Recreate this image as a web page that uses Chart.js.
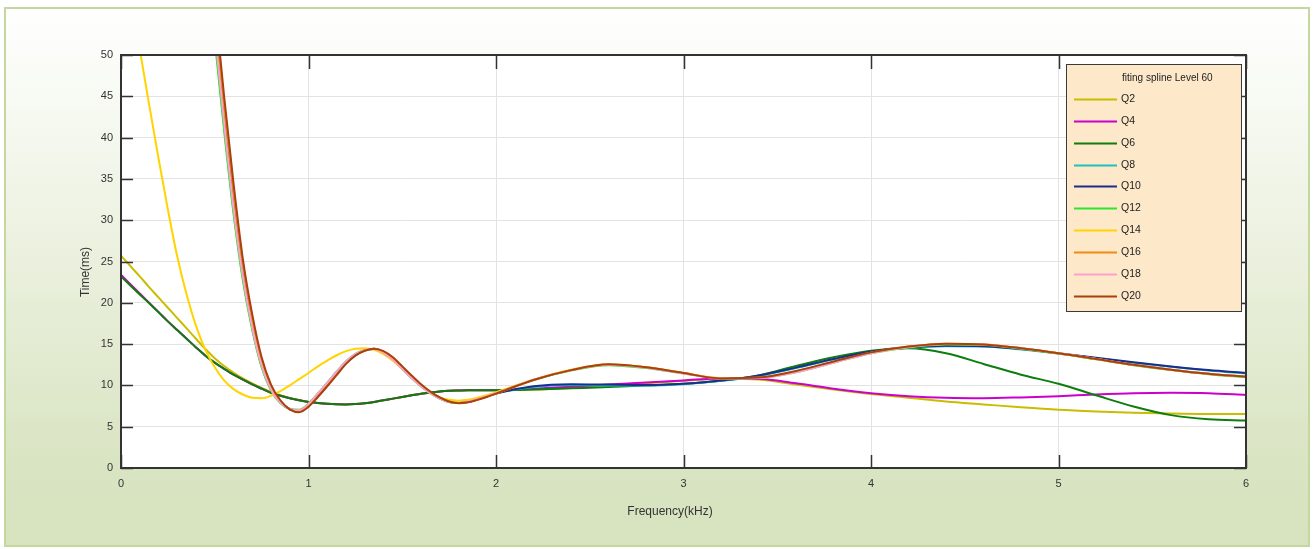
<!DOCTYPE html>
<html>
<head>
<meta charset="utf-8">
<script src="https://cdn.jsdelivr.net/npm/chart.js@4.4.1/dist/chart.umd.min.js"></script>
<style>
  html, body { margin: 0; padding: 0; background: #ffffff; }
  canvas { display: block; }
</style>
</head>
<body>
<canvas id="chart" width="1314" height="549"></canvas>
<script>
// Frequency grid (kHz): fine steps below 2 kHz, coarser above
const freq = [0, 0.05, 0.1, 0.15, 0.2, 0.25, 0.3, 0.35, 0.4, 0.45, 0.5, 0.55, 0.6, 0.65, 0.7, 0.75, 0.8, 0.85, 0.9, 0.95,
  1, 1.05, 1.1, 1.15, 1.2, 1.25, 1.3, 1.35, 1.4, 1.45, 1.5, 1.55, 1.6, 1.65, 1.7, 1.75, 1.8, 1.85, 1.9, 1.95, 2,
  2.2, 2.4, 2.6, 2.8, 3, 3.2, 3.4, 3.6, 3.8, 4, 4.2, 4.4, 4.6, 4.8, 5, 5.2, 5.4, 5.6, 5.8, 6];

// Time (ms) per fitted spline, one value per frequency above
const q2 = [25.7, 24.45, 23.2, 21.9, 20.65, 19.4, 18.15, 16.9, 15.65, 14.4, 13.3, 12.35, 11.55, 10.85, 10.25, 9.7, 9.22, 8.82, 8.48, 8.22,
  8.02, 7.88, 7.78, 7.72, 7.7, 7.75, 7.85, 8.0, 8.2, 8.4, 8.6, 8.8, 9.0, 9.15, 9.27, 9.35, 9.38, 9.4, 9.4, 9.4, 9.4,
  9.5, 9.7, 9.95, 10.25, 10.55, 10.8, 10.7, 10.1, 9.5, 8.95, 8.5, 8.05, 7.7, 7.35, 7.05, 6.85, 6.7, 6.6, 6.55, 6.55];

const q4 = [23.4, 22.25, 21.12, 20.02, 18.9, 17.75, 16.7, 15.65, 14.6, 13.6, 12.75, 12.0, 11.3, 10.7, 10.12, 9.6, 9.1, 8.75, 8.45, 8.2,
  8.0, 7.88, 7.78, 7.72, 7.7, 7.75, 7.85, 8.0, 8.2, 8.4, 8.6, 8.8, 9.0, 9.15, 9.27, 9.35, 9.38, 9.4, 9.4, 9.4, 9.4,
  9.6, 9.85, 10.1, 10.35, 10.6, 10.85, 10.8, 10.25, 9.6, 9.05, 8.7, 8.5, 8.45, 8.55, 8.7, 8.9, 9.05, 9.1, 9.05, 8.85];

const q6 = [23.2, 22.1, 21.0, 19.95, 18.85, 17.75, 16.7, 15.65, 14.6, 13.6, 12.75, 12.0, 11.3, 10.7, 10.12, 9.6, 9.1, 8.75, 8.45, 8.2,
  8.0, 7.88, 7.78, 7.72, 7.7, 7.75, 7.85, 8.0, 8.2, 8.4, 8.6, 8.8, 9.0, 9.15, 9.27, 9.35, 9.38, 9.4, 9.4, 9.4, 9.4,
  9.5, 9.65, 9.8, 10.0, 10.2, 10.55, 11.2, 12.35, 13.4, 14.2, 14.5, 13.9, 12.6, 11.3, 10.2, 8.8, 7.45, 6.4, 5.9, 5.75];

const q8 = [null, null, null, null, null, null, null, null, 81, 65, 52.4, 41.3, 31.2, 23.0, 16.9, 12.3, 9.45, 7.9, 7.15, 7.0,
  7.75, 9.0, 10.3, 11.65, 12.9, 13.8, 14.3, 14.4, 13.95, 13.1, 12.0, 10.9, 9.9, 9.05, 8.4, 8.0, 7.9, 8.05, 8.35, 8.7, 9.05,
  9.8, 10.05, 10.0, 10.0, 10.15, 10.55, 11.15, 12.1, 13.15, 14.05, 14.55, 14.75, 14.7, 14.35, 13.85, 13.3, 12.75, 12.25, 11.8, 11.45];

const q10 = [null, null, null, null, null, null, null, null, 84, 68, 55, 43.5, 33.2, 24.3, 17.8, 12.9, 9.8, 8.05, 7.1, 6.85,
  7.55, 8.75, 10.05, 11.4, 12.75, 13.7, 14.25, 14.45, 14.05, 13.25, 12.15, 11.05, 10.0, 9.15, 8.5, 8.02, 7.87, 8.0, 8.3, 8.65, 9.02,
  9.9, 10.15, 10.1, 10.05, 10.2, 10.6, 11.2, 12.15, 13.2, 14.1, 14.6, 14.8, 14.75, 14.4, 13.9, 13.35, 12.8, 12.3, 11.85, 11.5];

const q12 = [null, null, null, null, null, null, null, null, 80, 64, 51.8, 40.8, 30.8, 22.7, 16.7, 12.2, 9.4, 7.85, 7.15, 7.05,
  7.8, 9.0, 10.3, 11.65, 12.9, 13.8, 14.3, 14.4, 13.95, 13.1, 12.0, 10.9, 9.9, 9.05, 8.4, 8.0, 7.9, 8.05, 8.35, 8.7, 9.05,
  10.65, 11.8, 12.45, 12.1, 11.45, 10.85, 10.9, 11.6, 12.75, 13.9, 14.6, 14.95, 14.9, 14.45, 13.85, 13.15, 12.45, 11.85, 11.35, 11.0];

const q14 = [64, 57, 50.7, 44, 37.5, 31.3, 25.6, 21.0, 17.2, 14.3, 12.2, 10.6, 9.55, 8.9, 8.5, 8.45, 8.75, 9.3, 10.0, 10.75,
  11.5, 12.3, 13.0, 13.65, 14.15, 14.45, 14.5, 14.3, 13.8, 13.0, 12.0, 10.95, 9.95, 9.1, 8.55, 8.25, 8.15, 8.25, 8.5, 8.8, 9.15,
  10.7, 11.9, 12.55, 12.2, 11.5, 10.9, 10.9, 11.65, 12.8, 13.95, 14.65, 15.0, 14.95, 14.5, 13.9, 13.2, 12.5, 11.9, 11.4, 11.05];

const q16 = [null, null, null, null, null, null, null, null, 84.5, 68.5, 55.3, 43.8, 33.5, 24.6, 18.0, 13.0, 9.85, 8.1, 7.1, 6.8,
  7.5, 8.7, 10.0, 11.35, 12.7, 13.65, 14.22, 14.45, 14.1, 13.35, 12.25, 11.15, 10.1, 9.2, 8.52, 8.03, 7.86, 7.97, 8.27, 8.62, 9.0,
  10.65, 11.85, 12.5, 12.2, 11.5, 10.85, 10.95, 11.7, 12.85, 13.95, 14.7, 15.05, 14.95, 14.5, 13.9, 13.2, 12.5, 11.9, 11.4, 11.05];

const q18 = [null, null, null, null, null, null, null, null, 82, 66, 53.0, 41.8, 31.5, 23.2, 17.0, 12.4, 9.5, 7.9, 7.15, 7.0,
  7.75, 9.0, 10.3, 11.65, 12.9, 13.8, 14.3, 14.4, 13.95, 13.1, 12.0, 10.9, 9.9, 9.05, 8.4, 8.0, 7.9, 8.05, 8.35, 8.7, 9.05,
  10.7, 11.85, 12.5, 12.15, 11.45, 10.85, 10.9, 11.6, 12.75, 13.9, 14.65, 15.0, 14.95, 14.5, 13.9, 13.2, 12.5, 11.9, 11.4, 11.05];

const q20 = [null, null, null, null, null, null, null, null, 86, 70, 56.5, 45, 34.5, 25.3, 18.6, 13.4, 10.1, 8.2, 7.1, 6.75,
  7.4, 8.6, 9.9, 11.25, 12.6, 13.6, 14.2, 14.45, 14.15, 13.4, 12.3, 11.2, 10.15, 9.25, 8.55, 8.05, 7.85, 7.95, 8.25, 8.6, 9.0,
  10.65, 11.85, 12.55, 12.2, 11.5, 10.85, 10.95, 11.75, 12.9, 14.0, 14.7, 15.05, 14.95, 14.5, 13.9, 13.2, 12.5, 11.9, 11.4, 11.05];

const seriesNames = ['Q2', 'Q4', 'Q6', 'Q8', 'Q10', 'Q12', 'Q14', 'Q16', 'Q18', 'Q20'];
const seriesValues = [q2, q4, q6, q8, q10, q12, q14, q16, q18, q20];

const legendTitle = 'fiting spline Level 60';
const xTitle = 'Frequency(kHz)';
const yTitle = 'Time(ms)';

// Line colours, in series order
const palette = ['#c9bd00', '#cc00cc', '#0d7d0d', '#1ec0c0', '#1c2e8c', '#2fe62f', '#ffd400', '#f08a10', '#ff9fcc', '#a8420c'];

const FONT = '"Liberation Sans", Arial, sans-serif';

const datasets = seriesNames.map((name, i) => ({
  label: name,
  data: freq.map((f, k) => ({ x: f, y: seriesValues[i][k] })),
  borderColor: palette[i],
  backgroundColor: palette[i],
  borderWidth: 2,
  pointRadius: 0,
  pointHoverRadius: 0,
  fill: false,
  cubicInterpolationMode: 'monotone',
  clip: 0,
  // later series are painted over earlier ones
  order: seriesNames.length - i
}));

// Panel background, gradient frame and white plot area
const framePlugin = {
  id: 'frame',
  beforeDraw(chart) {
    const { ctx, chartArea: a, width, height } = chart;
    ctx.save();
    ctx.fillStyle = '#ffffff';
    ctx.fillRect(0, 0, width, height);
    const g = ctx.createLinearGradient(0, 8, 0, 546);
    g.addColorStop(0, '#ffffff');
    g.addColorStop(0.85, '#d9e4c2');
    g.addColorStop(1, '#d7e2bf');
    ctx.fillStyle = g;
    ctx.fillRect(5, 8, 1304, 538);
    ctx.strokeStyle = '#c3d79e';
    ctx.lineWidth = 2;
    ctx.strokeRect(5, 8, 1304, 538);
    ctx.fillStyle = '#ffffff';
    ctx.fillRect(a.left, a.top, a.right - a.left, a.bottom - a.top);
    ctx.restore();
  }
};

// Axes box with inward tick marks on all four sides
const boxPlugin = {
  id: 'box',
  afterDatasetsDraw(chart) {
    const { ctx, chartArea: a, scales } = chart;
    ctx.save();
    ctx.strokeStyle = '#333333';
    ctx.lineWidth = 2;
    ctx.strokeRect(a.left, a.top, a.right - a.left, a.bottom - a.top);
    ctx.lineWidth = 1.5;
    ctx.beginPath();
    scales.x.ticks.forEach(t => {
      const px = Math.round(scales.x.getPixelForValue(t.value)) + 0.5;
      ctx.moveTo(px, a.bottom); ctx.lineTo(px, a.bottom - 13);
      ctx.moveTo(px, a.top); ctx.lineTo(px, a.top + 14);
    });
    scales.y.ticks.forEach(t => {
      const py = Math.round(scales.y.getPixelForValue(t.value)) + 0.5;
      ctx.moveTo(a.left, py); ctx.lineTo(a.left + 12, py);
      ctx.moveTo(a.right, py); ctx.lineTo(a.right - 12, py);
    });
    ctx.stroke();
    ctx.restore();
  }
};

// Axis titles and the boxed legend inside the plot
const annotatePlugin = {
  id: 'annotate',
  afterDraw(chart) {
    const { ctx } = chart;
    ctx.save();
    ctx.fillStyle = '#333333';
    ctx.font = '12px ' + FONT;
    ctx.textAlign = 'center';
    ctx.textBaseline = 'middle';
    ctx.fillText(xTitle, 670, 512);
    ctx.save();
    ctx.translate(86, 272);
    ctx.rotate(-Math.PI / 2);
    ctx.fillText(yTitle, 0, 0);
    ctx.restore();

    const bx = 1066, by = 64, bw = 175, bh = 247;
    ctx.fillStyle = '#fde9ca';
    ctx.fillRect(bx, by, bw, bh);
    ctx.strokeStyle = '#3a3a3a';
    ctx.lineWidth = 1;
    ctx.strokeRect(bx + 0.5, by + 0.5, bw, bh);

    ctx.textAlign = 'left';
    ctx.fillStyle = '#222222';
    ctx.font = '10px ' + FONT;
    ctx.fillText(legendTitle, 1122, 78);

    chart.data.datasets.forEach((ds, i) => {
      const y = Math.round(99 + i * 21.85) + 0.5;
      ctx.strokeStyle = ds.borderColor;
      ctx.lineWidth = 2;
      ctx.beginPath();
      ctx.moveTo(1074, y);
      ctx.lineTo(1117, y);
      ctx.stroke();
      ctx.fillStyle = '#222222';
      ctx.font = '10.5px ' + FONT;
      ctx.fillText(ds.label, 1121, y);
    });
    ctx.restore();
  }
};

new Chart(document.getElementById('chart'), {
  type: 'line',
  data: { datasets },
  options: {
    responsive: false,
    animation: false,
    devicePixelRatio: 1,
    layout: { padding: { left: 0, top: 55, right: 68, bottom: 0 } },
    plugins: { legend: { display: false }, tooltip: { enabled: false } },
    scales: {
      x: {
        type: 'linear', min: 0, max: 6,
        ticks: { stepSize: 1, padding: 9, color: '#333333', maxRotation: 0, font: { family: FONT, size: 11 } },
        grid: { color: '#e3e3e3', lineWidth: 1, drawTicks: false },
        border: { display: false },
        afterFit(scale) { scale.height = 81; }
      },
      y: {
        type: 'linear', min: 0, max: 50,
        ticks: { stepSize: 5, padding: 8, color: '#333333', font: { family: FONT, size: 11 } },
        grid: { color: '#e3e3e3', lineWidth: 1, drawTicks: false },
        border: { display: false },
        afterFit(scale) { scale.width = 121; }
      }
    }
  },
  plugins: [framePlugin, boxPlugin, annotatePlugin]
});
</script>
</body>
</html>
